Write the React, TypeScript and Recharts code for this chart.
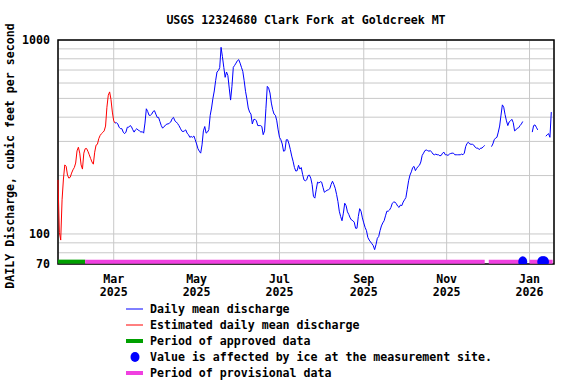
import { ComposedChart, Line, Scatter, XAxis, YAxis, CartesianGrid, ReferenceArea } from 'recharts';

const FONT = '"DejaVu Sans Mono", monospace';
const FONT_SIZE = 11.6;

// day 0 = 2025-01-19, day 365 = 2026-01-19
const xTicks = [41, 102, 163, 225, 286, 347];
const monthLabels = ['Mar', 'May', 'Jul', 'Sep', 'Nov', 'Jan'];
const yearLabels = ['2025', '2025', '2025', '2025', '2025', '2026'];

const yGrid = [70, 80, 90, 100, 200, 300, 400, 500, 600, 700, 800, 900, 1000];
const yLabeled = [70, 100, 1000];

// estimated daily mean discharge (red), days 0..42
const estimatedStart = 0;
const estimatedCfs = [
  190, 102, 93, 150, 192, 227, 223, 201, 194, 196,
  206, 214, 220, 232, 268, 280, 261, 227, 216, 261,
  275, 276, 267, 256, 245, 235, 229, 264, 287, 290,
  310, 322, 329, 334, 340, 360, 450, 519, 540, 493,
  425, 383, 373,
];

// daily mean discharge (blue), split where values are missing
const daily1Start = 42;
const daily1Cfs = [
  373, 375, 369, 355, 349, 349, 335, 329, 335, 355,
  355, 362, 358, 345, 335, 344, 349, 343, 340, 335,
  337, 331, 373, 442, 428, 409, 409, 415, 428, 432,
  415, 399, 399, 380, 362, 351, 358, 362, 369, 369,
  373, 378, 393, 399, 383, 378, 371, 362, 351, 340,
  337, 340, 344, 331, 325, 315, 318, 315, 320, 306,
  291, 275, 267, 261, 288, 340, 358, 331, 335, 345,
  409, 446, 500, 546, 617, 684, 695, 720, 917, 820,
  723, 642, 684, 656, 565, 490, 577, 723, 740, 760,
  782, 792, 760, 723, 689, 617, 544, 497, 446, 425,
  415, 369, 389, 390, 383, 362, 362, 362, 358, 325,
  340, 442, 577, 565, 533, 473, 437, 415, 409, 383,
  344, 315, 306, 291, 267, 269, 306, 306, 291, 272,
  252, 237, 220, 211, 212, 226, 216, 220, 203, 190,
  188, 190, 200, 201, 194, 180, 156, 153, 169, 185,
  183, 186, 185, 174, 164, 166, 168, 169, 171, 180,
  187, 180, 172, 160, 147, 131, 123, 117, 128, 144,
  140, 130, 126, 121, 118, 117, 115, 107, 107, 123,
  135, 131, 121, 114, 108, 104, 96, 93, 91, 89,
  87, 83, 88, 95, 97, 104, 110, 114, 117, 124,
  131, 131, 133, 137, 144, 146, 146, 143, 139, 137,
  141, 140, 146, 150, 154, 170, 188, 201, 209, 220,
  223, 212, 218, 223, 226, 235, 254, 261, 269, 271,
  269, 267, 269, 264, 258, 256, 258, 256, 256, 253,
  254, 261, 264, 256, 256, 254, 258, 260, 261, 261,
  256, 256, 256, 256, 256, 258, 256, 261, 282, 293,
  297, 291, 290, 290, 287, 280, 277, 277, 272, 277,
  277, 282, 286,
];
const daily2Start = 319;
const daily2Cfs = [
  282, 291, 306, 312, 315, 335, 360, 410, 463, 450,
  412, 383, 362, 378, 383, 390, 375, 340, 344, 351,
  353, 362, 369, 380,
];
const daily3Start = 349;
const daily3Cfs = [335, 362, 365, 355, 344];
const daily4Start = 359;
const daily4Cfs = [319, 325, 329, 315, 425];

const approvedRun = [0, 20];
const provisionalRuns = [[20, 314], [317, 343], [347, 364]];
const iceDays = [342, 356, 357, 358];
const BAR_LEVEL = 72;

const dailySegments = [
  { start: daily1Start, cfs: daily1Cfs },
  { start: daily2Start, cfs: daily2Cfs },
  { start: daily3Start, cfs: daily3Cfs },
  { start: daily4Start, cfs: daily4Cfs },
];

type Row = { day: number; est?: number; daily?: number; approved?: number; provisional?: number };

const rows: Row[] = [];
for (let d = 0; d <= 365; d++) rows.push({ day: d });
estimatedCfs.forEach((v, i) => { rows[estimatedStart + i].est = v; });
dailySegments.forEach((seg) => seg.cfs.forEach((v, i) => { rows[seg.start + i].daily = v; }));
for (let d = approvedRun[0]; d <= approvedRun[1]; d++) rows[d].approved = BAR_LEVEL;
provisionalRuns.forEach(([a, b]) => { for (let d = a; d <= b; d++) rows[d].provisional = BAR_LEVEL; });

const iceRows = iceDays.map((d) => ({ day: d, ice: BAR_LEVEL }));

const BLUE = '#0000ff';
const RED = '#ff0000';
const GREEN = '#00a000';
const MAGENTA = '#f040e0';
const GRID = '#c8c8c8';

const textStyle = { fontFamily: FONT, fontSize: FONT_SIZE, fontWeight: 700, fill: '#000' };

const MonthTick = (props: any) => {
  const { x, y, payload } = props;
  const i = xTicks.indexOf(payload.value);
  if (i < 0) return null;
  return (
    <g>
      <text x={x} y={y + 19} textAnchor="middle" style={textStyle}>{monthLabels[i]}</text>
      <text x={x} y={y + 32} textAnchor="middle" style={textStyle}>{yearLabels[i]}</text>
    </g>
  );
};

const CfsTick = (props: any) => {
  const { x, y, payload } = props;
  if (!yLabeled.includes(payload.value)) return null;
  return (
    <text x={x} y={y + 4} textAnchor="end" style={textStyle}>{payload.value}</text>
  );
};

const IceDot = (props: any) => (
  <ellipse cx={props.cx} cy={props.cy} rx={4.5} ry={5.3} fill={BLUE} />
);

const legendItems = [
  { label: 'Daily mean discharge', kind: 'line', color: BLUE },
  { label: 'Estimated daily mean discharge', kind: 'line', color: RED },
  { label: 'Period of approved data', kind: 'bar', color: GREEN },
  { label: 'Value is affected by ice at the measurement site.', kind: 'dot', color: BLUE },
  { label: 'Period of provisional data', kind: 'bar', color: MAGENTA },
];

export default function App() {
  return (
    <div style={{ position: 'absolute', left: 0, top: 0, width: 576, height: 384, background: '#fff' }}>
      <ComposedChart
        width={576}
        height={300}
        data={rows}
        margin={{ top: 40, right: 22, bottom: 0, left: 0 }}
      >
        <CartesianGrid stroke={GRID} strokeWidth={1} />
        <XAxis
          dataKey="day"
          type="number"
          domain={[0, 365]}
          ticks={xTicks}
          interval={0}
          tick={<MonthTick />}
          tickLine={false}
          axisLine={false}
          tickSize={0}
          tickMargin={0}
          height={36}
        />
        <YAxis
          type="number"
          scale="log"
          domain={[70, 1000]}
          allowDataOverflow
          ticks={yGrid}
          interval={0}
          tick={<CfsTick />}
          tickLine={false}
          axisLine={false}
          tickSize={0}
          tickMargin={8}
          width={58}
        />
        <Line dataKey="est" stroke={RED} strokeWidth={1} dot={false} activeDot={false} isAnimationActive={false} />
        <Line dataKey="daily" stroke={BLUE} strokeWidth={1} dot={false} activeDot={false} isAnimationActive={false} />
        <Line dataKey="approved" stroke={GREEN} strokeWidth={4} dot={false} activeDot={false} isAnimationActive={false} />
        <Line dataKey="provisional" stroke={MAGENTA} strokeWidth={4} dot={false} activeDot={false} isAnimationActive={false} />
        <Scatter data={iceRows} dataKey="ice" shape={<IceDot />} isAnimationActive={false} />
        <ReferenceArea x1={0} x2={365} y1={70} y2={1000} fill="none" stroke="#000" strokeWidth={1.5} />
      </ComposedChart>
      <svg width={576} height={384} style={{ position: 'absolute', left: 0, top: 0, pointerEvents: 'none' }}>
        <text x={306} y={24} textAnchor="middle" style={textStyle}>
          USGS 12324680 Clark Fork at Goldcreek MT
        </text>
        <text transform="translate(14,156) rotate(-90)" textAnchor="middle" style={textStyle}>
          DAILY Discharge, cubic feet per second
        </text>
        {legendItems.map((item, i) => {
          const cy = 309 + i * 16;
          return (
            <g key={item.label}>
              {item.kind === 'line' && <line x1={126} x2={143} y1={cy} y2={cy} stroke={item.color} strokeWidth={1} />}
              {item.kind === 'bar' && <line x1={126} x2={143} y1={cy} y2={cy} stroke={item.color} strokeWidth={4} />}
              {item.kind === 'dot' && <ellipse cx={135} cy={cy} rx={4.5} ry={5} fill={item.color} />}
              <text x={150} y={cy + 4} style={textStyle}>{item.label}</text>
            </g>
          );
        })}
      </svg>
    </div>
  );
}
